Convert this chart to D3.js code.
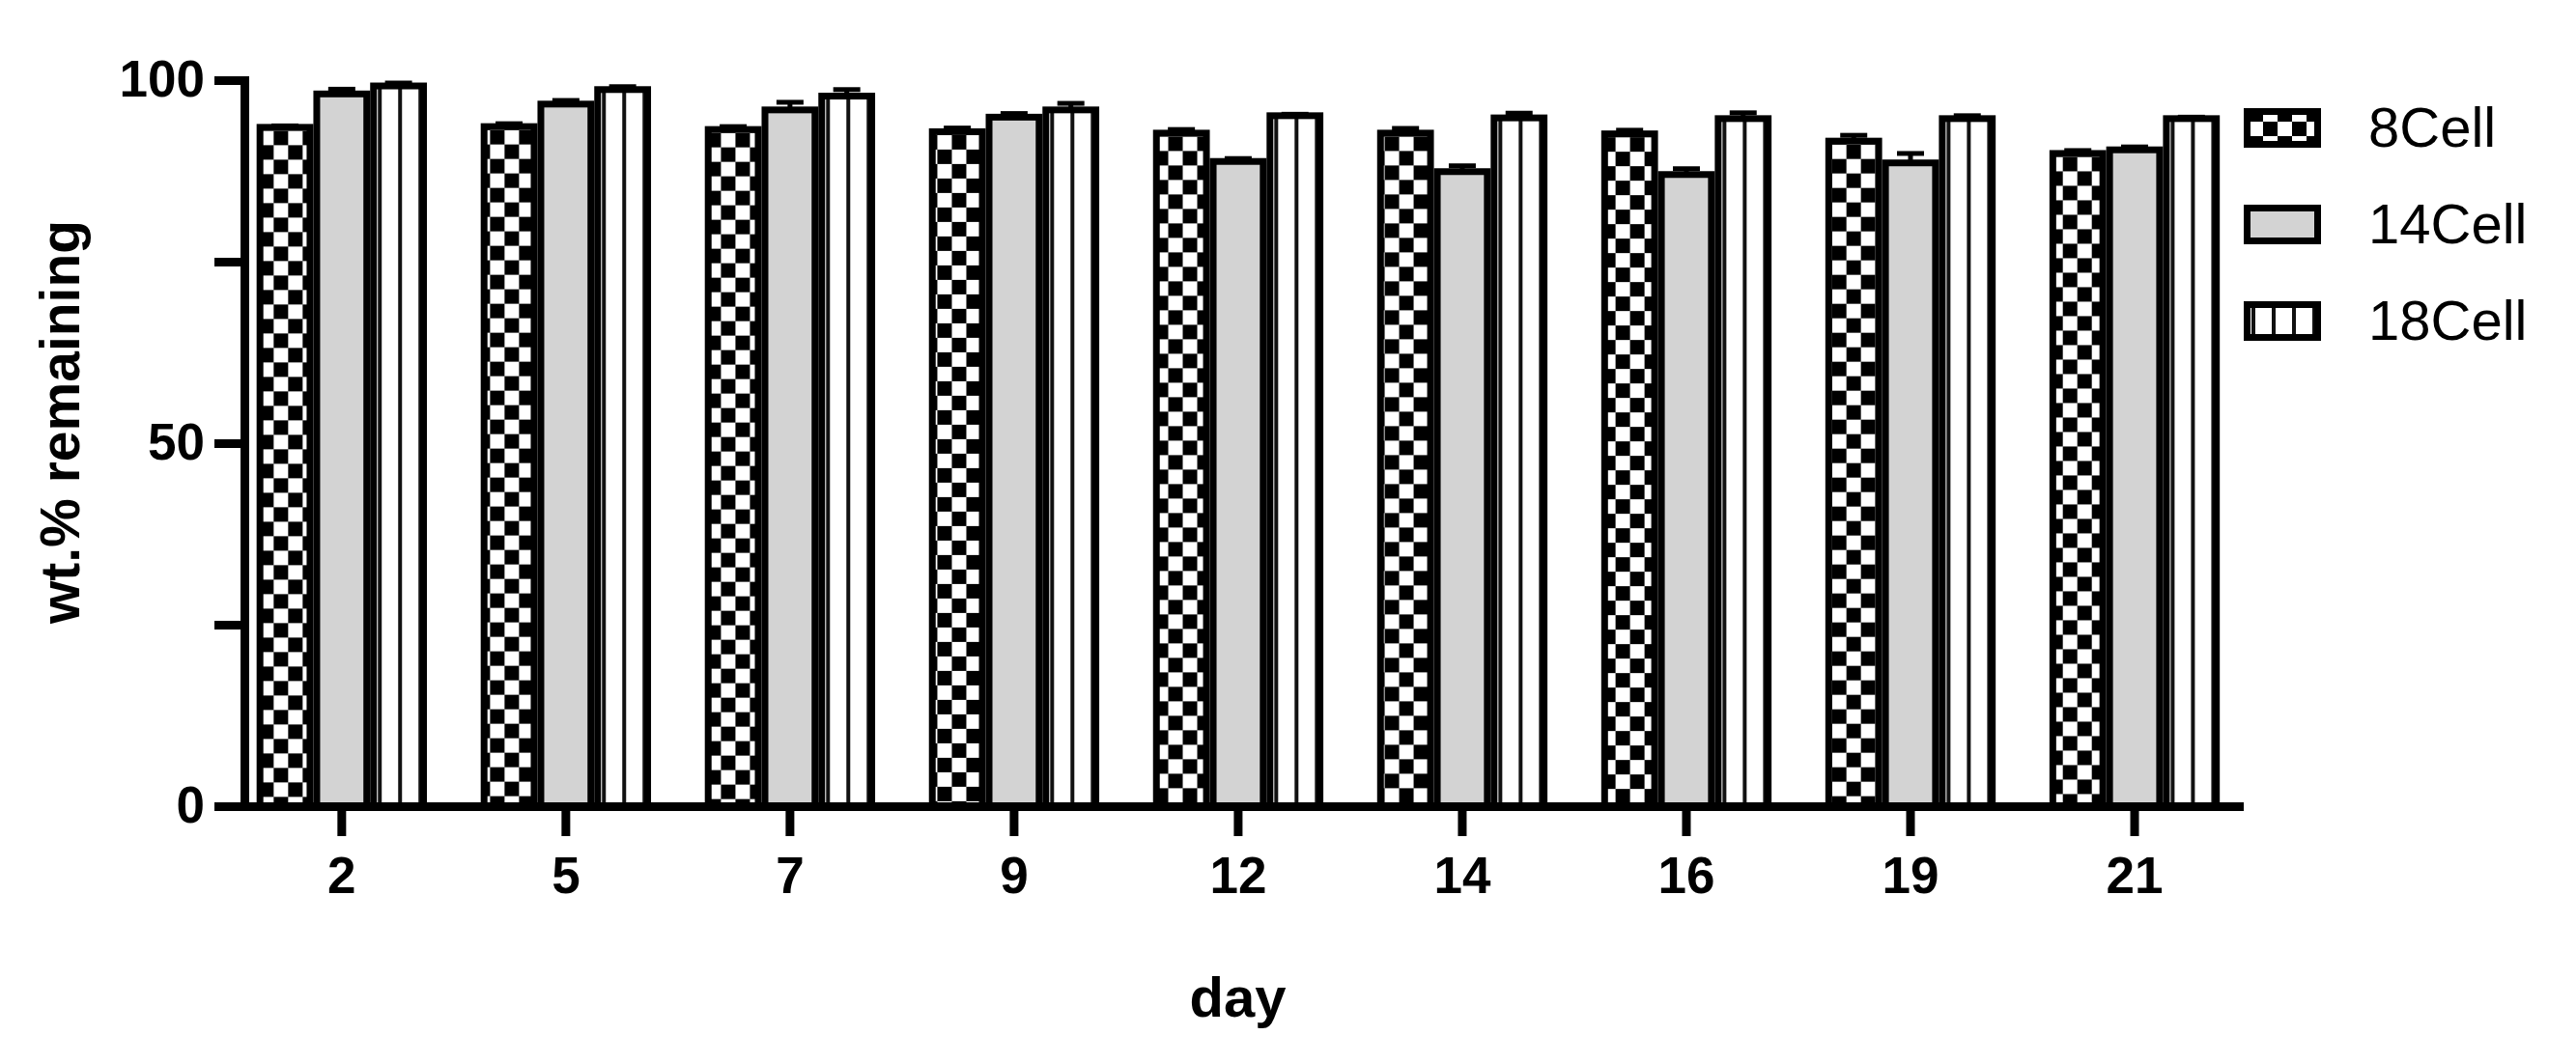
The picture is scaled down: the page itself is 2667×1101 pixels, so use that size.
<!DOCTYPE html>
<html>
<head>
<meta charset="utf-8">
<script src="https://cdn.jsdelivr.net/npm/d3@7/dist/d3.min.js"></script>
<style>
  body { margin: 0; background: #fff; }
  text { font-family: "Liberation Sans", Arial, sans-serif; }
</style>
</head>
<body>
<div id="chart"></div>
<script>
// values
var days = ["2", "5", "7", "9", "12", "14", "16", "19", "21"];
var seriesNames = ["8Cell", "14Cell", "18Cell"];
var cell8 = [93.5, 93.6, 93.2, 92.9, 92.7, 92.7, 92.6, 91.6, 89.9];
var cell14 = [98.1, 96.7, 95.9, 94.9, 88.8, 87.4, 87.0, 88.6, 90.4];
var cell18 = [99.2, 98.7, 97.8, 95.9, 95.1, 94.8, 94.7, 94.7, 94.7];
var err8 = [0.2, 0.4, 0.4, 0.5, 0.5, 0.65, 0.5, 0.8, 0.4];
var err14 = [0.65, 0.5, 1.05, 0.5, 0.4, 0.8, 0.8, 1.3, 0.4];
var err18 = [0.4, 0.4, 0.9, 0.9, 0.2, 0.65, 0.8, 0.4, 0.2];
var yTicks = [0, 25, 50, 75, 100];
var yTickLabels = ["0", "", "50", "", "100"];

var series = [
    { name: seriesNames[0], values: cell8, errors: err8, fill: "checker" },
    { name: seriesNames[1], values: cell14, errors: err14, fill: "gray" },
    { name: seriesNames[2], values: cell18, errors: err18, fill: "stripes" }
];

var width = 2667,
    height = 1101,
    plotLeft = 253,
    plotRight = 2318,
    plotTop = 83,
    plotBottom = 835,
    border = 7;

var svg = d3.select("#chart").append("svg")
    .attr("width", width)
    .attr("height", height);

svg.append("rect").attr("width", width).attr("height", height).attr("fill", "#fff");

var defs = svg.append("defs");

// vertical lines for the 18Cell bars
var stripes = defs.append("pattern")
    .attr("id", "stripes")
    .attr("patternUnits", "userSpaceOnUse")
    .attr("width", 21)
    .attr("height", 10);
stripes.append("rect").attr("width", 21).attr("height", 10).attr("fill", "#fff");
stripes.append("rect").attr("x", 8).attr("width", 4).attr("height", 10).attr("fill", "#111");

var x = d3.scaleBand()
    .domain(days)
    .range([plotLeft, plotRight])
    .paddingInner(0.24)
    .paddingOuter(0.07)
    .align(0.39);

var xs = d3.scaleBand()
    .domain(seriesNames)
    .range([0, x.bandwidth()]);

var y = d3.scaleLinear()
    .domain([0, 100])
    .range([plotBottom, plotTop]);

var checkerCount = 0;
function fillFor(kind, px, py) {
    if (kind === "gray") return "#d3d3d3";
    if (kind === "stripes") return "url(#stripes)";
    // checkerboard anchored at the top-left of the box
    var id = "checker" + (checkerCount++);
    var p = defs.append("pattern")
        .attr("id", id)
        .attr("patternUnits", "userSpaceOnUse")
        .attr("x", px)
        .attr("y", py)
        .attr("width", 30)
        .attr("height", 30);
    p.append("rect").attr("width", 30).attr("height", 30).attr("fill", "#fff");
    p.append("rect").attr("x", 15).attr("width", 15).attr("height", 15).attr("fill", "#000");
    p.append("rect").attr("y", 15).attr("width", 15).attr("height", 15).attr("fill", "#000");
    return "url(#" + id + ")";
}

// bars
var barData = [];
days.forEach(function (day, i) {
    series.forEach(function (s) {
        barData.push({ day: day, name: s.name, value: s.values[i], error: s.errors[i], fill: s.fill });
    });
});

var bars = svg.selectAll(".bar")
    .data(barData)
    .enter().append("g")
    .attr("class", "bar")
    .attr("transform", function (d) { return "translate(" + (x(d.day) + xs(d.name)) + ",0)"; });

bars.append("rect")
    .attr("y", function (d) { return y(d.value) - border / 2; })
    .attr("width", xs.bandwidth())
    .attr("height", function (d) { return y(0) - y(d.value) + border / 2; })
    .attr("fill", "#000");

bars.append("rect")
    .attr("x", border)
    .attr("y", function (d) { return y(d.value) + border / 2; })
    .attr("width", xs.bandwidth() - 2 * border)
    .attr("height", function (d) { return y(0) - y(d.value) - border / 2; })
    .attr("fill", function (d) {
        return fillFor(d.fill, x(d.day) + xs(d.name) + border, y(d.value) + border / 2);
    });

// error bars (upper half)
bars.append("line")
    .attr("x1", xs.bandwidth() / 2)
    .attr("x2", xs.bandwidth() / 2)
    .attr("y1", function (d) { return y(d.value); })
    .attr("y2", function (d) { return y(d.value + d.error); })
    .attr("stroke", "#000")
    .attr("stroke-width", 5);

bars.append("line")
    .attr("x1", xs.bandwidth() / 2 - 14)
    .attr("x2", xs.bandwidth() / 2 + 14)
    .attr("y1", function (d) { return y(d.value + d.error); })
    .attr("y2", function (d) { return y(d.value + d.error); })
    .attr("stroke", "#000")
    .attr("stroke-width", 5);

// axes
var yAxis = svg.append("g")
    .attr("transform", "translate(" + plotLeft + ",0)")
    .call(d3.axisLeft(y)
        .tickValues(yTicks)
        .tickFormat(function (d, i) { return yTickLabels[i]; })
        .tickSizeInner(31)
        .tickSizeOuter(0)
        .tickPadding(10));

var xAxis = svg.append("g")
    .attr("transform", "translate(0," + plotBottom + ")")
    .call(d3.axisBottom(x)
        .tickSizeInner(31)
        .tickSizeOuter(0)
        .tickPadding(21));

[yAxis, xAxis].forEach(function (a) {
    a.select(".domain").attr("stroke", "#000").attr("stroke-width", 9).attr("stroke-linecap", "square");
    a.selectAll(".tick line").attr("stroke", "#000").attr("stroke-width", 9);
    a.selectAll(".tick text")
        .attr("fill", "#000")
        .style("font-family", "'Liberation Sans', Arial, sans-serif")
        .style("font-size", "53px")
        .style("font-weight", "bold");
});

// axis titles
svg.append("text")
    .attr("x", (plotLeft + plotRight) / 2 - 4)
    .attr("y", 1053)
    .attr("text-anchor", "middle")
    .style("font-size", "58px")
    .style("font-weight", "bold")
    .text("day");

svg.append("text")
    .attr("transform", "translate(82,437) rotate(-90)")
    .attr("text-anchor", "middle")
    .style("font-size", "57px")
    .style("font-weight", "bold")
    .text("wt.% remaining");

// legend
var legend = svg.selectAll(".legend")
    .data(series)
    .enter().append("g")
    .attr("class", "legend")
    .attr("transform", function (d, i) { return "translate(2323," + (112 + i * 100) + ")"; });

legend.append("rect")
    .attr("width", 80)
    .attr("height", 41)
    .attr("fill", "#000");

legend.append("rect")
    .attr("x", border)
    .attr("y", border)
    .attr("width", 80 - 2 * border)
    .attr("height", 41 - 2 * border)
    .attr("fill", function (d, i) { return fillFor(d.fill, 2323 + border, 112 + i * 100 + border); });

legend.append("text")
    .attr("x", 129)
    .attr("y", 40)
    .style("font-size", "58px")
    .text(function (d) { return d.name; });
</script>
</body>
</html>
